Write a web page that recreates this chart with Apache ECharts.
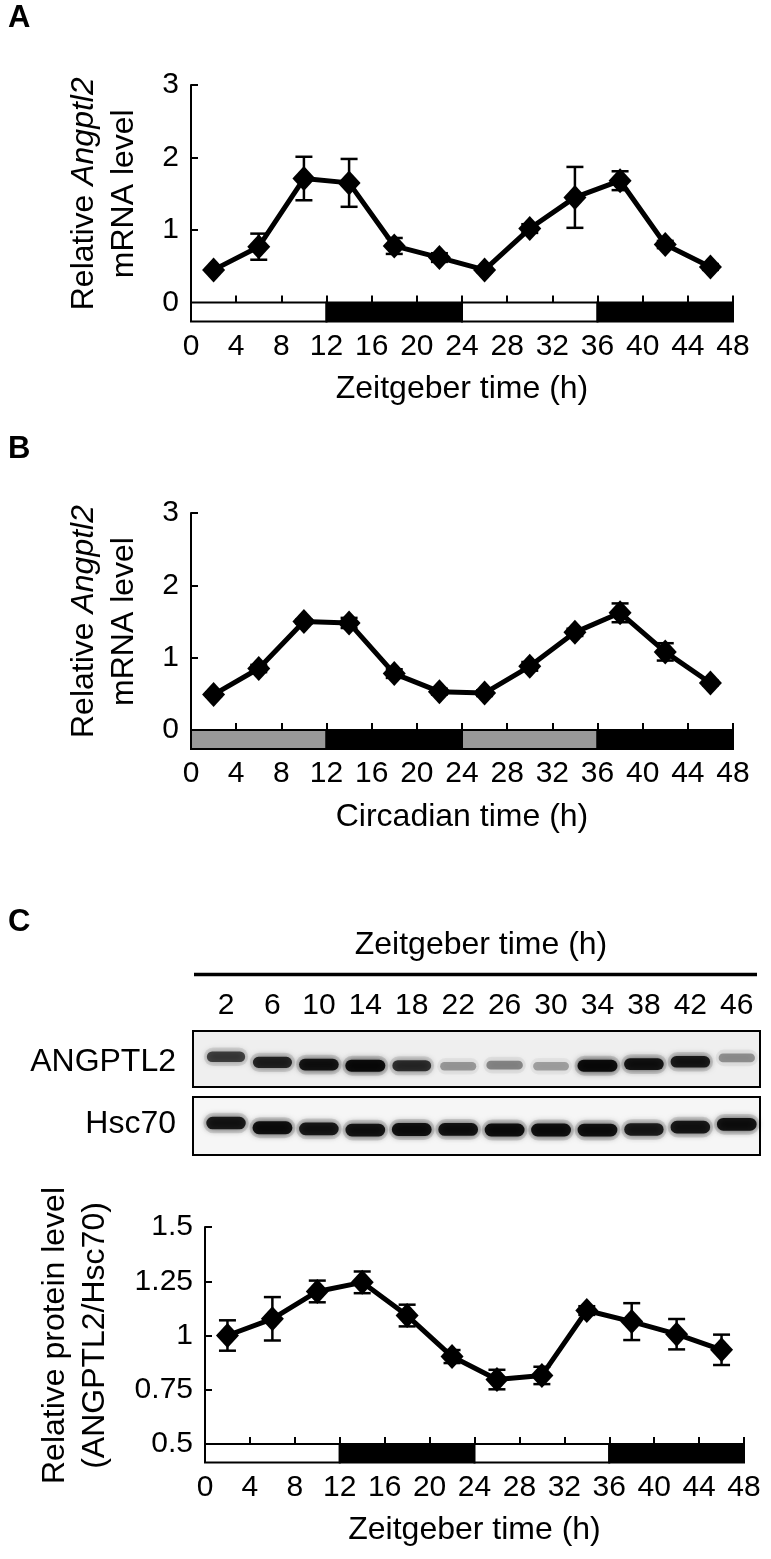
<!DOCTYPE html>
<html><head><meta charset="utf-8">
<script src="https://cdn.jsdelivr.net/npm/echarts@6.0.0/dist/echarts.min.js"></script>
<style>html,body{margin:0;padding:0;background:#fff}#c{width:771px;height:1559px}</style>
</head><body><div id="c"></div>
<script>
// ---------- data ----------
const timePoints = [2, 6, 10, 14, 18, 22, 26, 30, 34, 38, 42, 46];
const laneLabels = ['2','6','10','14','18','22','26','30','34','38','42','46'];

const mrnaLD    = [0.45, 0.77, 1.71, 1.65, 0.78, 0.62, 0.45, 1.02, 1.45, 1.68, 0.80, 0.49];
const mrnaLDErr = [0.02, 0.18, 0.30, 0.33, 0.11, 0.06, 0.03, 0.06, 0.42, 0.13, 0.05, 0.04];

const mrnaDD    = [0.49, 0.85, 1.50, 1.48, 0.78, 0.53, 0.51, 0.88, 1.35, 1.62, 1.08, 0.65];
const mrnaDDErr = [0.03, 0.05, 0.03, 0.07, 0.06, 0.04, 0.04, 0.06, 0.05, 0.13, 0.12, 0.03];

const protein    = [1.00, 1.077, 1.203, 1.245, 1.092, 0.903, 0.797, 0.816, 1.115, 1.064, 1.006, 0.934];
const proteinErr = [0.07, 0.10, 0.05, 0.05, 0.05, 0.03, 0.045, 0.04, 0.02, 0.085, 0.07, 0.07];

const phaseStart = [0, 12, 24, 36];
const phaseEnd   = [12, 24, 36, 48];
const phaseLD    = ['light', 'dark', 'light', 'dark'];
const phaseDD    = ['subjective', 'dark', 'subjective', 'dark'];

// western blot band intensities (0..1) and migration (relative height in lane box)
const angptl2Band = [0.72, 0.86, 0.95, 1.00, 0.80, 0.35, 0.42, 0.32, 1.00, 0.95, 0.92, 0.38];
const angptl2Mig  = [0.54, 0.44, 0.40, 0.38, 0.38, 0.37, 0.39, 0.37, 0.38, 0.41, 0.45, 0.52];
const hsc70Band   = [0.92, 0.98, 0.93, 0.95, 0.97, 0.96, 0.98, 0.98, 0.97, 0.90, 0.93, 0.96];
const hsc70Mig    = [0.55, 0.47, 0.45, 0.43, 0.44, 0.44, 0.43, 0.43, 0.43, 0.44, 0.48, 0.53];

// ---------- styles ----------
const FONT = 'Liberation Sans, Arial, sans-serif';
const phaseColor = { light: '#ffffff', dark: '#000000', subjective: '#999999' };

const chart = echarts.init(document.getElementById('c'), null, { renderer: 'canvas' });

function errRender(params, api) {
  const x = api.value(0), v = api.value(1), e = api.value(2);
  const top = api.coord([x, v + e]), bot = api.coord([x, v - e]);
  const cw = 8.5;
  const st = { stroke: '#000', lineWidth: 2.5 };
  return { type: 'group', children: [
    { type: 'line', shape: { x1: top[0], y1: top[1], x2: bot[0], y2: bot[1] }, style: st },
    { type: 'line', shape: { x1: top[0] - cw, y1: top[1], x2: top[0] + cw, y2: top[1] }, style: st },
    { type: 'line', shape: { x1: bot[0] - cw, y1: bot[1], x2: bot[0] + cw, y2: bot[1] }, style: st }
  ]};
}
function phaseRenderer(kinds) {
  return function (params, api) {
    const s = api.coord([api.value(0), 1]);
    const e = api.coord([api.value(1), 0]);
    return { type: 'rect', shape: { x: s[0], y: s[1], width: e[0] - s[0], height: e[1] - s[1] },
      style: { fill: phaseColor[kinds[params.dataIndex]], stroke: '#000', lineWidth: 2 } };
  };
}
function bandRenderer(intens, mig, baseH) {
  return function (params, api) {
    const i = params.dataIndex;
    const a = intens[i];
    const c = api.coord([api.value(0), mig[i]]);
    const w = 34 + 6 * a, h = baseH * (0.55 + 0.45 * a);
    return { type: 'group', children: [
      { type: 'rect', shape: { x: c[0] - w / 2 - 3, y: c[1] - h / 2 - 4, width: w + 6, height: h + 8, r: (h + 8) / 2 },
        style: { fill: 'rgba(0,0,0,' + (a * 0.12) + ')', shadowBlur: 10, shadowColor: 'rgba(0,0,0,' + (a * 0.15) + ')' } },
      { type: 'rect', shape: { x: c[0] - w / 2, y: c[1] - h / 2, width: w, height: h, r: h / 2 },
        style: { fill: 'rgba(0,0,0,' + (a * 0.9) + ')', shadowBlur: 7, shadowColor: 'rgba(0,0,0,' + (a * 0.8) + ')' } }
    ]};
  };
}

const phaseData = phaseStart.map((s, i) => [s, phaseEnd[i]]);

const mainX = (g) => ({ gridIndex: g, type: 'value', min: 0, max: 48, interval: 4,
  axisLine: { lineStyle: { color: '#000', width: 2 } },
  axisTick: { inside: true, length: 7, lineStyle: { color: '#000', width: 2 } },
  axisLabel: { show: false }, splitLine: { show: false } });
const barX = (g, name) => ({ gridIndex: g, type: 'value', min: 0, max: 48, interval: 4,
  axisLine: { show: false }, axisTick: { show: false }, splitLine: { show: false },
  axisLabel: { fontSize: 30, color: '#000', fontFamily: FONT, margin: 10 },
  name: name, nameLocation: 'middle', nameGap: 52,
  nameTextStyle: { fontSize: 32, color: '#000', fontFamily: FONT } });
const hiddenY = (g) => ({ gridIndex: g, type: 'value', min: 0, max: 1, show: false });
const mainY = (g, min, max, interval, name, gap, rich) => ({ gridIndex: g, type: 'value', min, max, interval,
  axisLine: { show: true, lineStyle: { color: '#000', width: 2 } },
  axisTick: { show: true, inside: true, length: 7, lineStyle: { color: '#000', width: 2 } },
  axisLabel: { fontSize: 30, color: '#000', fontFamily: FONT, margin: 12 },
  splitLine: { show: false },
  name: name, nameLocation: 'middle', nameRotate: 90, nameGap: gap,
  nameTextStyle: { fontSize: 32, color: '#000', fontFamily: FONT, lineHeight: 40, rich: rich } });

const richA = {
  a: { fontSize: 32, color: '#000', fontFamily: FONT, lineHeight: 40 },
  i: { fontSize: 32, color: '#000', fontFamily: FONT, fontStyle: 'italic', lineHeight: 40 }
};

const lineSeries = (xi, yi, vals) => ({ type: 'line', xAxisIndex: xi, yAxisIndex: yi,
  data: timePoints.map((t, i) => [t, vals[i]]), symbol: 'diamond', symbolSize: [23, 25],
  lineStyle: { color: '#000', width: 5 }, itemStyle: { color: '#000' }, z: 3 });
const errSeries = (xi, yi, vals, errs) => ({ type: 'custom', xAxisIndex: xi, yAxisIndex: yi,
  renderItem: errRender, data: timePoints.map((t, i) => [t, vals[i], errs[i]]),
  encode: { x: 0, y: 1 }, z: 2 });
const phaseSeries = (xi, yi, kinds) => ({ type: 'custom', xAxisIndex: xi, yAxisIndex: yi,
  renderItem: phaseRenderer(kinds), data: phaseData, encode: { x: [0, 1] }, z: 2 });

const option = {
  animation: false,
  backgroundColor: '#fff',
  grid: [
    { left: 191, top: 85, width: 542, height: 217.5 },           // 0 A main
    { left: 191, top: 302.5, width: 542, height: 19 },           // 1 A bar
    { left: 191, top: 513, width: 542, height: 217 },            // 2 B main
    { left: 191, top: 730, width: 542, height: 19 },             // 3 B bar
    { left: 193, top: 1031, width: 567, height: 56, show: true, backgroundColor: '#efefef', borderColor: '#000', borderWidth: 2 }, // 4 blot ANGPTL2
    { left: 193, top: 1097, width: 567, height: 58, show: true, backgroundColor: '#f6f6f6', borderColor: '#000', borderWidth: 2 }, // 5 blot Hsc70
    { left: 205, top: 1227, width: 539, height: 217 },           // 6 C main
    { left: 205, top: 1444, width: 539, height: 18.5 }           // 7 C bar
  ],
  xAxis: [
    mainX(0), barX(1, 'Zeitgeber time (h)'),
    mainX(2), barX(3, 'Circadian time (h)'),
    { gridIndex: 4, type: 'value', min: -0.844, max: 48, position: 'top',
      axisLine: { show: false }, axisTick: { show: false }, splitLine: { show: false },
      axisLabel: { customValues: timePoints, fontSize: 30, color: '#000', fontFamily: FONT, margin: 10 } },
    { gridIndex: 5, type: 'value', min: -0.844, max: 48, show: false },
    mainX(6), barX(7, 'Zeitgeber time (h)')
  ],
  yAxis: [
    mainY(0, 0, 3, 1, '{a|Relative }{i|Angptl2}\n{a|mRNA level}', 47, richA), hiddenY(1),
    mainY(2, 0, 3, 1, '{a|Relative }{i|Angptl2}\n{a|mRNA level}', 47, richA), hiddenY(3),
    hiddenY(4), hiddenY(5),
    mainY(6, 0.5, 1.5, 0.25, 'Relative protein level\n(ANGPTL2/Hsc70)', 90, null), hiddenY(7)
  ],
  series: [
    phaseSeries(1, 1, phaseLD),
    errSeries(0, 0, mrnaLD, mrnaLDErr),
    lineSeries(0, 0, mrnaLD),
    phaseSeries(3, 3, phaseDD),
    errSeries(2, 2, mrnaDD, mrnaDDErr),
    lineSeries(2, 2, mrnaDD),
    { type: 'custom', xAxisIndex: 4, yAxisIndex: 4, renderItem: bandRenderer(angptl2Band, angptl2Mig, 12),
      data: timePoints.map((t, i) => [t, angptl2Band[i]]), encode: { x: 0 }, z: 2 },
    { type: 'custom', xAxisIndex: 5, yAxisIndex: 5, renderItem: bandRenderer(hsc70Band, hsc70Mig, 13),
      data: timePoints.map((t, i) => [t, hsc70Band[i]]), encode: { x: 0 }, z: 2 },
    phaseSeries(7, 7, phaseLD),
    errSeries(6, 6, protein, proteinErr),
    lineSeries(6, 6, protein)
  ],
  graphic: [
    { type: 'text', left: 8, top: 3, style: { text: 'A', font: 'bold 31px ' + FONT, fill: '#000' } },
    { type: 'text', left: 8, top: 434, style: { text: 'B', font: 'bold 31px ' + FONT, fill: '#000' } },
    { type: 'text', left: 8, top: 907, style: { text: 'C', font: 'bold 31px ' + FONT, fill: '#000' } },
    { type: 'text', x: 481, y: 945, style: { text: 'Zeitgeber time (h)', font: '32px ' + FONT, fill: '#000', textAlign: 'center', textVerticalAlign: 'middle' } },
    { type: 'line', shape: { x1: 194, y1: 974.5, x2: 757, y2: 974.5 }, style: { stroke: '#000', lineWidth: 3.5 } },
    { type: 'text', x: 176, y: 1062, style: { text: 'ANGPTL2', font: '32px ' + FONT, fill: '#000', textAlign: 'right', textVerticalAlign: 'middle' } },
    { type: 'text', x: 176, y: 1124, style: { text: 'Hsc70', font: '32px ' + FONT, fill: '#000', textAlign: 'right', textVerticalAlign: 'middle' } }
  ]
};
chart.setOption(option);
</script></body></html>
